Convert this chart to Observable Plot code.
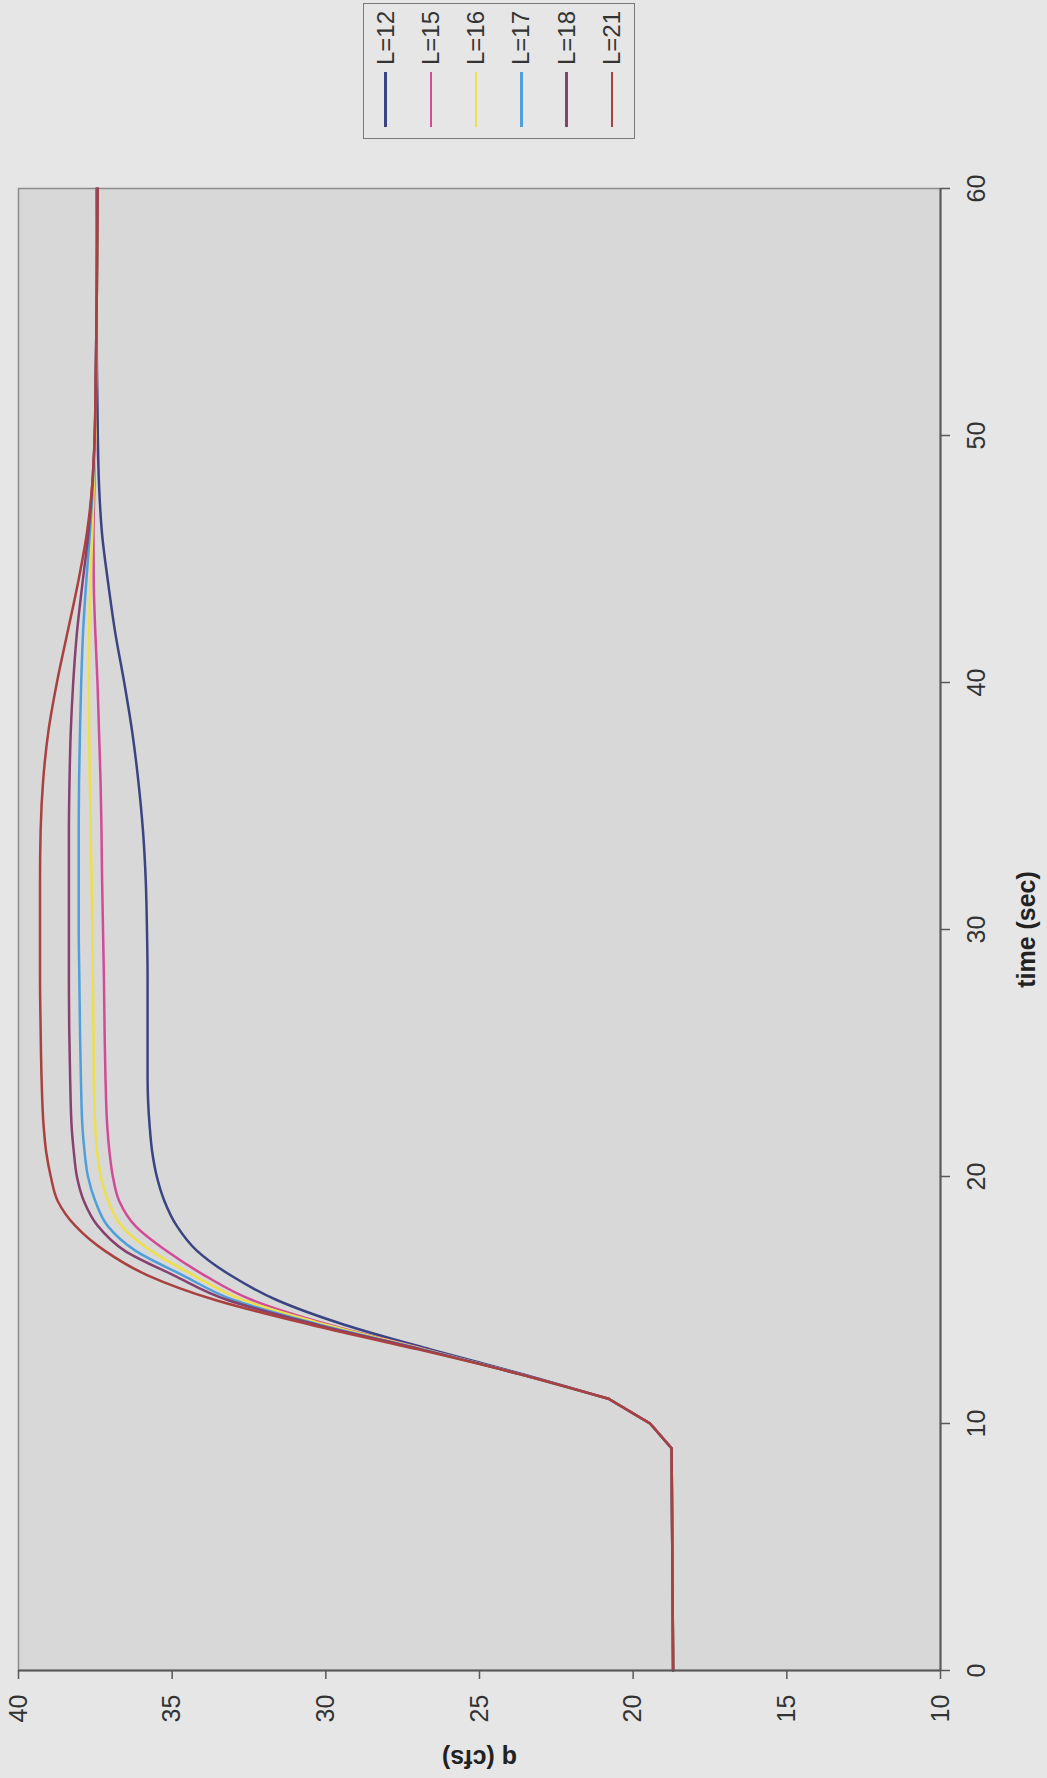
<!DOCTYPE html>
<html>
<head>
<meta charset="utf-8">
<script src="https://cdn.jsdelivr.net/npm/d3@7"></script>
<script src="https://cdn.jsdelivr.net/npm/@observablehq/plot@0.6"></script>
<style>
  html, body { margin: 0; padding: 0; background: #e6e6e6; }
  #wrap { width: 1047px; height: 1778px; position: relative; overflow: hidden; font-family: "Liberation Sans", Arial, sans-serif; }
  #legend { position: relative; width: 1047px; height: 150px; }
  #legend .box { position: absolute; left: 363px; top: 3px; width: 270px; height: 134px; border: 1.5px solid #7a7a7a; }
  #legend .sw { position: absolute; width: 2.6px; top: 68px; height: 55px; }
  #legend .lab { position: absolute; top: 34px; font-size: 24px; color: #333; white-space: nowrap; transform: translate(-50%, -50%) rotate(-90deg); }
  #chart svg { display: block; }
</style>
</head>
<body>
<div id="wrap">
  <div id="legend"></div>
  <div id="chart"></div>
</div>
<script>
// ---- data (time in seconds, q in cfs) ----
const time = [0, 9, 10, 11, 12, 13, 14, 15, 16, 17, 18, 19, 20, 21, 22, 24, 26, 28, 30, 32, 34, 36, 38, 40, 42, 44, 46, 48, 50, 53, 56, 60];

const qL12 = [18.7, 18.75, 19.45, 20.8, 23.6, 26.6, 29.4, 31.6, 33.1, 34.2, 34.85, 35.25, 35.5, 35.65, 35.73, 35.8, 35.8, 35.8, 35.82, 35.86, 35.95, 36.1, 36.3, 36.56, 36.85, 37.08, 37.28, 37.38, 37.42, 37.45, 37.46, 37.46];
const qL15 = [18.7, 18.75, 19.45, 20.8, 23.7, 26.75, 29.9, 32.4, 33.95, 35.2, 36.2, 36.72, 36.93, 37.04, 37.11, 37.17, 37.2, 37.22, 37.25, 37.28, 37.3, 37.33, 37.38, 37.43, 37.5, 37.55, 37.56, 37.53, 37.5, 37.47, 37.46, 37.45];
const qL16 = [18.7, 18.75, 19.45, 20.8, 23.7, 26.8, 30.0, 32.7, 34.3, 35.7, 36.65, 37.08, 37.32, 37.44, 37.5, 37.55, 37.56, 37.58, 37.6, 37.62, 37.65, 37.68, 37.7, 37.71, 37.7, 37.66, 37.6, 37.55, 37.5, 37.47, 37.45, 37.44];
const qL17 = [18.7, 18.75, 19.45, 20.8, 23.7, 26.85, 30.2, 33.0, 34.65, 36.2, 37.1, 37.5, 37.74, 37.85, 37.92, 37.97, 38.0, 38.02, 38.04, 38.04, 38.04, 38.03, 38.0, 37.96, 37.9, 37.8, 37.68, 37.58, 37.52, 37.48, 37.45, 37.44];
const qL18 = [18.7, 18.75, 19.45, 20.8, 23.7, 26.9, 30.3, 33.2, 34.95, 36.55, 37.42, 37.87, 38.1, 38.2, 38.27, 38.32, 38.35, 38.36, 38.36, 38.36, 38.36, 38.34, 38.3, 38.22, 38.1, 37.92, 37.73, 37.6, 37.52, 37.48, 37.45, 37.43];
const qL21 = [18.7, 18.75, 19.45, 20.8, 23.7, 27.0, 30.5, 33.6, 35.8, 37.2, 38.15, 38.72, 38.95, 39.1, 39.18, 39.25, 39.28, 39.3, 39.3, 39.3, 39.28, 39.2, 39.03, 38.75, 38.41, 38.07, 37.78, 37.6, 37.52, 37.48, 37.45, 37.42];

const seriesNames = ["L=12", "L=15", "L=16", "L=17", "L=18", "L=21"];
const seriesValues = [qL12, qL15, qL16, qL17, qL18, qL21];
const seriesColors = ["#3b4482", "#d24b97", "#ece04e", "#4e9fdc", "#86416f", "#a8413f"];

const qTicks = [10, 15, 20, 25, 30, 35, 40];
const timeTicks = [0, 10, 20, 30, 40, 50, 60];
const xTitle = "q (cfs)";
const yTitle = "time (sec)";

// ---- long table ----
const rows = [];
seriesNames.forEach((name, i) => {
  time.forEach((t, j) => rows.push({series: name, t, q: seriesValues[i][j]}));
});
// the start-up ramp is drawn with straight segments, the rise/recession smoothly
const rampRows = rows.filter(d => d.t <= 11);
const flowRows = rows.filter(d => d.t >= 11);

// ---- legend (above the svg) ----
const legend = document.getElementById("legend");
const box = document.createElement("div");
box.className = "box";
legend.appendChild(box);
seriesNames.forEach((name, i) => {
  const cx = 21.5 + i * 45.3;
  const sw = document.createElement("div");
  sw.className = "sw";
  sw.style.left = (cx - 1.3) + "px";
  sw.style.background = seriesColors[i];
  box.appendChild(sw);
  const lab = document.createElement("div");
  lab.className = "lab";
  lab.style.left = cx + "px";
  lab.textContent = name;
  box.appendChild(lab);
});

// ---- chart ----
const font = "'Liberation Sans', Arial, sans-serif";
const chart = Plot.plot({
  width: 1047,
  height: 1628,
  marginTop: 38,
  marginBottom: 108,
  marginLeft: 18,
  marginRight: 107,
  style: {background: "transparent", fontFamily: font, color: "#333"},
  x: {domain: [40, 10], axis: null},
  y: {domain: [0, 60], axis: null},
  color: {domain: seriesNames, range: seriesColors},
  marks: [
    Plot.frame({fill: "#d8d8d8", stroke: "#8c8c8c", strokeWidth: 1.5}),
    Plot.line(rampRows, {x: "q", y: "t", z: "series", stroke: "series", strokeWidth: 2.5, curve: "linear"}),
    Plot.line(flowRows, {x: "q", y: "t", z: "series", stroke: "series", strokeWidth: 2.5, curve: "monotone-y"}),
    Plot.ruleY([0], {stroke: "#585858", strokeWidth: 2}),
    Plot.ruleX([10], {stroke: "#585858", strokeWidth: 2}),
    Plot.axisX({ticks: qTicks, anchor: "bottom", tickSize: 9, tickFormat: () => "", label: null, stroke: "#585858", strokeWidth: 1.5}),
    Plot.axisY({ticks: timeTicks, anchor: "right", tickSize: 9, tickFormat: () => "", label: null, stroke: "#585858", strokeWidth: 1.5}),
    Plot.text(qTicks, {x: d => d, text: d => String(d), frameAnchor: "bottom", dy: 38, rotate: -90, fontSize: 25, textAnchor: "middle", lineAnchor: "middle", fill: "#333"}),
    Plot.text(timeTicks, {y: d => d, text: d => String(d), frameAnchor: "right", dx: 36, rotate: -90, fontSize: 25, textAnchor: "middle", lineAnchor: "middle", fill: "#333"}),
    Plot.text([xTitle], {text: d => d, frameAnchor: "bottom", dy: 87, rotate: 180, fontSize: 25, fontWeight: "bold", textAnchor: "middle", lineAnchor: "middle", fill: "#222"}),
    Plot.text([yTitle], {text: d => d, frameAnchor: "right", dx: 86, rotate: -90, fontSize: 25, fontWeight: "bold", textAnchor: "middle", lineAnchor: "middle", fill: "#222"})
  ]
});
document.getElementById("chart").appendChild(chart);
</script>
</body>
</html>
